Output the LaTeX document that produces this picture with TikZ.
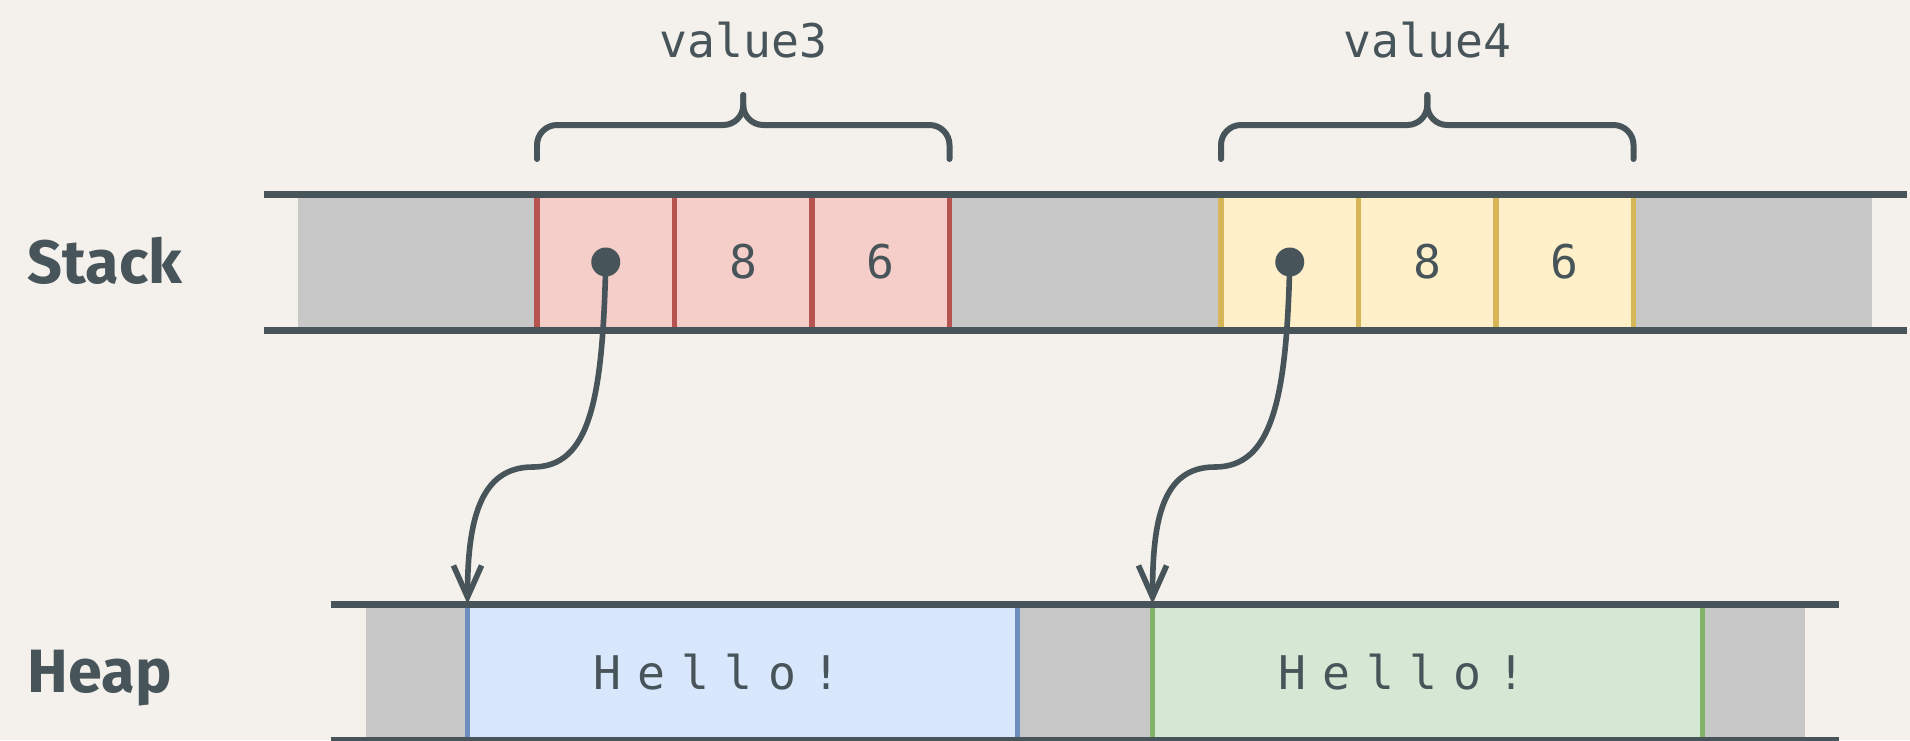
\documentclass[tikz,border=0pt]{standalone}
\usepackage{fontspec}
\setsansfont{Fira Sans}
\setmonofont{DejaVu Sans Mono}
\usepackage{tikz}
\usetikzlibrary{arrows.meta, positioning, calc}
\usepackage{xcolor}
\definecolor{memink}{HTML}{47555A}
\definecolor{membg}{HTML}{F4F0EC}
\definecolor{memgray}{HTML}{C7C7C7}
\definecolor{redfill}{HTML}{F5CDC9}
\definecolor{redline}{HTML}{B85450}
\definecolor{yelfill}{HTML}{FFF0CA}
\definecolor{yelline}{HTML}{D6B656}
\definecolor{bluefill}{HTML}{D8E7FB}
\definecolor{blueline}{HTML}{6C8EBF}
\definecolor{grnfill}{HTML}{D5E8D4}
\definecolor{grnline}{HTML}{82B366}

\begin{document}
\begin{tikzpicture}[
    x=0.1mm, y=-0.1mm, node distance=0pt,
    rail/.style={draw=memink, line width=2pt},
    cell/.style={outer sep=0pt, inner sep=0pt, minimum width=13.75mm,
                 minimum height=13.6mm, line width=1.5pt, text=memink,
                 font=\ttfamily\fontsize{13.2}{15}\selectfont},
    block/.style={outer sep=0pt, inner sep=0pt, minimum width=55mm,
                  minimum height=13.6mm, line width=1.5pt, text=memink,
                  font={\ttfamily\fontsize{13.2}{15}\selectfont\spaceskip 0.34em\relax}},
    side/.style={anchor=base west, inner sep=0pt, text=memink,
                 font=\sffamily\bfseries\fontsize{17.4}{20}\selectfont},
    lbl/.style={inner sep=0pt, text=memink,
                font=\ttfamily\fontsize{13.2}{15}\selectfont},
    brc/.style={draw=memink, line width=1.7pt, rounded corners=2mm, line cap=round},
    dot/.style={circle, fill=memink, minimum size=2.9mm, inner sep=0pt},
    ptr/.style={draw=memink, line width=1.6pt,
                -{Straight Barb[length=9pt, width=8pt]}}
  ]
    \useasboundingbox (0,0) rectangle (1910,740);
    \fill[membg] (0,0) rectangle (1910,740);

    % stack
    \node[side] (stk) at (27,283) {Stack};
    \fill[memgray] (298,194) rectangle (1872,330);
    \node[cell, draw=redline, fill=redfill] (r1) at (605.75,262) {};
    \node[cell, draw=redline, fill=redfill, right=of r1] (r2) {8};
    \node[cell, draw=redline, fill=redfill, right=of r2] (r3) {6};
    \node[cell, draw=yelline, fill=yelfill] (y1) at (1289.75,262) {};
    \node[cell, draw=yelline, fill=yelfill, right=of y1] (y2) {8};
    \node[cell, draw=yelline, fill=yelfill, right=of y2] (y3) {6};
    \draw[rail] (264,194) -- (1907,194);
    \draw[rail] (264,330) -- (1907,330);
    \node[dot] (p1) at (r1.center) {};
    \node[dot] (p2) at (y1.center) {};

    % braces
    \draw[brc] ($(r1.north west)+(0,-35)$) |- ($(r2.north)+(0,-69)$) -- ++(0,-30);
    \draw[brc] ($(r3.north east)+(0,-35)$) |- ($(r2.north)+(0,-69)$) -- ++(0,-30);
    \node[lbl] (v3) at ($(r2.north)+(0,-154)$) {value3};
    \draw[brc] ($(y1.north west)+(0,-35)$) |- ($(y2.north)+(0,-69)$) -- ++(0,-30);
    \draw[brc] ($(y3.north east)+(0,-35)$) |- ($(y2.north)+(0,-69)$) -- ++(0,-30);
    \node[lbl] (v4) at ($(y2.north)+(0,-154)$) {value4};

    % heap
    \node[side] (hp) at (27,692) {Heap};
    \fill[memgray] (366,604) rectangle (1805,740);
    \node[block, draw=blueline, fill=bluefill] (h1) at (742.5,672) {H e l l o !\kern1.1em};
    \node[block, draw=grnline, fill=grnfill] (h2) at (1427.5,672) {H e l l o !\kern1.1em};
    \draw[rail] (331,604) -- (1839,604);
    \draw[rail] (331,740) -- (1839,740);

    % pointers
    \draw[ptr] (p1.center) .. controls +(-3,138) and +(57,0) .. ($(p1.center)+(-73,205)$)
      .. controls +(-53,0) and +(0,-83) .. (h1.north west);
    \draw[ptr] (p2.center) .. controls +(-3,138) and +(57,0) .. ($(p2.center)+(-75,205)$)
      .. controls +(-53,0) and +(0,-83) .. (h2.north west);
  \end{tikzpicture}
\end{document}
